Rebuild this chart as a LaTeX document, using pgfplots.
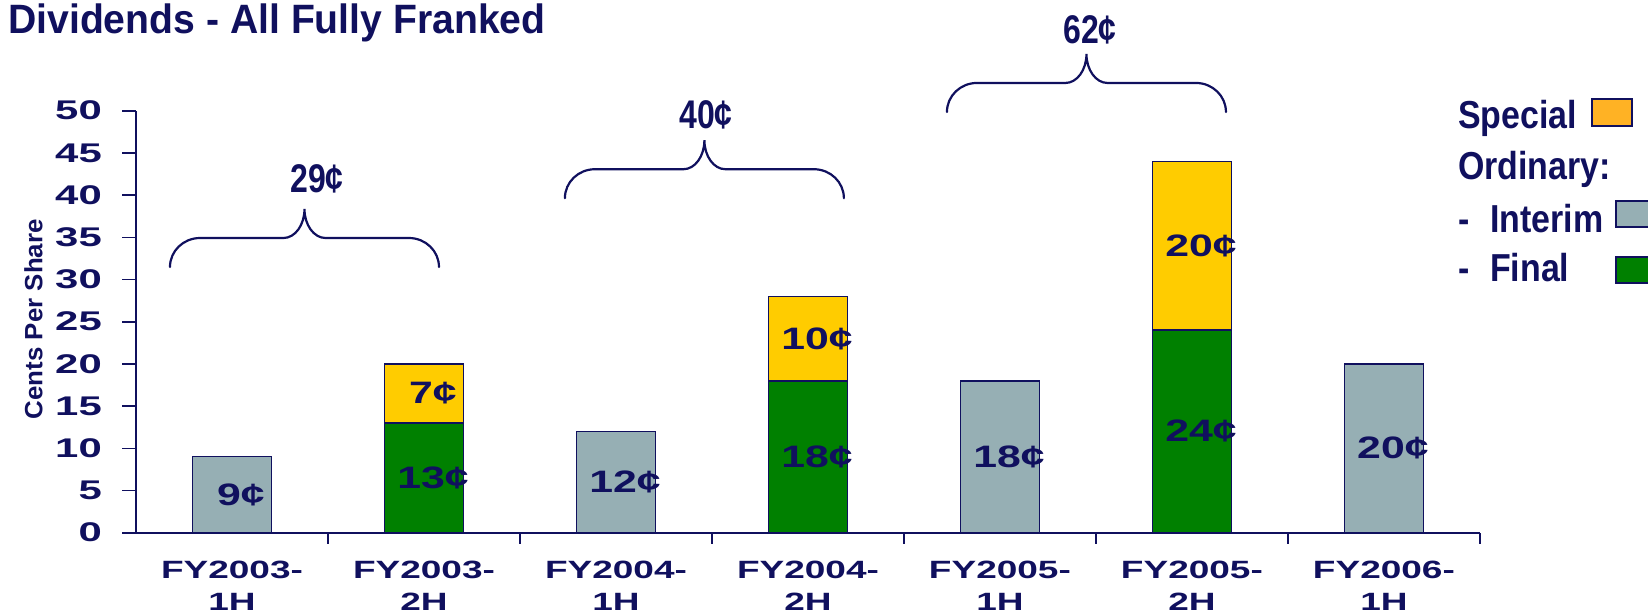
\documentclass[border=0pt]{standalone}
\usepackage{fontspec}
\setmainfont{Liberation Sans}
\usepackage{pgfplots}
\pgfplotsset{compat=1.18}

\definecolor{navy}{HTML}{10105E}
\definecolor{interim}{HTML}{96AFB4}
\definecolor{final}{HTML}{008000}
\definecolor{special}{HTML}{FFCC00}
\definecolor{speciallegend}{HTML}{FFB224}

% Bold faces, narrowed or widened as needed
\newfontfamily\titlefam[FakeStretch=0.955]{Liberation Sans}
\newfontfamily\legfam[FakeStretch=0.87]{Liberation Sans}
\newfontfamily\sumfam[FakeStretch=0.80]{Liberation Sans}
\newfontfamily\tickfam[FakeStretch=1.48]{Liberation Sans}
\newfontfamily\ytickfam[FakeStretch=1.55]{Liberation Sans}
\newfontfamily\valfam[FakeStretch=1.38]{Liberation Sans}
\newfontfamily\labfam[FakeStretch=1.035]{Liberation Sans}

\tikzset{
  segval/.style={text=navy, inner sep=0pt, xshift=9pt,
    font=\valfam\bfseries\fontsize{31}{31}\selectfont},
  yearsum/.style={text=navy, inner sep=0pt, anchor=base,
    font=\sumfam\bfseries\fontsize{40}{40}\selectfont},
  keytext/.style={text=navy, inner sep=0pt, anchor=base west,
    font=\legfam\bfseries\fontsize{39}{39}\selectfont},
  bracepath/.style={navy, line width=2.2pt, line cap=round},
}

\begin{document}
\begin{tikzpicture}[x=1pt,y=1pt]
\useasboundingbox (0,0) rectangle (1648,611);

\node[anchor=base west, inner sep=0pt, text=navy,
      font=\titlefam\bfseries\fontsize{41}{41}\selectfont]
  at (8,577) {Dividends - All Fully Franked};

\begin{axis}[
  at={(136pt,78.3pt)}, anchor=south west,
  scale only axis, width=1344pt, height=422pt,
  xmin=-0.5, xmax=6.5, ymin=0, ymax=50,
  clip=false,
  axis x line*=bottom, axis y line*=left,
  axis line style={navy, line width=1.6pt, -},
  ybar stacked, bar width=79pt,
  ytick={0,5,...,50},
  xtick={0,...,6},
  xticklabels={{FY2003-\\1H},{FY2003-\\2H},{FY2004-\\1H},{FY2004-\\2H},
               {FY2005-\\1H},{FY2005-\\2H},{FY2006-\\1H}},
  minor xtick={0.5,1.5,...,6.5},
  tick align=outside,
  major tick length=14pt, minor tick length=11pt,
  tick style={navy, line width=1.6pt},
  major x tick style={draw=none},
  /pgf/number format/assume math mode=true,
  yticklabel style={font=\ytickfam\bfseries\fontsize{27}{27}\selectfont,
                    text=navy, anchor=east, inner sep=0pt, xshift=-20pt},
  xticklabel style={font=\tickfam\bfseries\fontsize{25}{32}\selectfont,
                    text=navy, align=center, anchor=north, inner sep=0pt,
                    yshift=-14pt},
  ylabel={Cents Per Share},
  ylabel style={font=\labfam\bfseries\fontsize{25}{25}\selectfont,
                text=navy, at={(axis description cs:-0.0697,0.506)},
                anchor=base, inner sep=0pt},
]
% Interim, final and special dividends per half year (cents)
\addplot[fill=interim, draw=navy, line width=1.5pt]
  coordinates {(0,9) (1,0) (2,12) (3,0) (4,18) (5,0) (6,20)};
\addplot[fill=final, draw=navy, line width=1.5pt]
  coordinates {(0,0) (1,13) (2,0) (3,18) (4,0) (5,24) (6,0)};
\addplot[fill=special, draw=navy, line width=1.5pt]
  coordinates {(0,0) (1,7) (2,0) (3,10) (4,0) (5,20) (6,0)};

% Mid-points of the bar segments, labelled after the axis is drawn
\coordinate (i1) at (axis cs:0,4.5);
\coordinate (f2) at (axis cs:1,6.5);
\coordinate (s2) at (axis cs:1,16.5);
\coordinate (i3) at (axis cs:2,6);
\coordinate (f4) at (axis cs:3,9);
\coordinate (s4) at (axis cs:3,23);
\coordinate (i5) at (axis cs:4,9);
\coordinate (f6) at (axis cs:5,12);
\coordinate (s6) at (axis cs:5,34);
\coordinate (i7) at (axis cs:6,10);

% Full-year totals with braces
\draw[bracepath] (axis cs:-0.323,31.48)
  .. controls +(0pt,16pt) and +(-16.6pt,0pt) .. ++(30pt,29pt)
  -- ++(83.5pt,0pt)
  .. controls +(11.6pt,0pt) and +(0pt,-16pt) .. ++(21pt,29pt)
  .. controls +(0pt,-16pt) and +(-11.6pt,0pt) .. ++(21pt,-29pt)
  -- ++(83.5pt,0pt)
  .. controls +(16.6pt,0pt) and +(0pt,16pt) .. ++(30pt,-29pt);
\draw[bracepath] (axis cs:1.734,39.63)
  .. controls +(0pt,16pt) and +(-16.6pt,0pt) .. ++(30pt,29pt)
  -- ++(88.5pt,0pt)
  .. controls +(11.6pt,0pt) and +(0pt,-16pt) .. ++(21pt,29pt)
  .. controls +(0pt,-16pt) and +(-11.6pt,0pt) .. ++(21pt,-29pt)
  -- ++(88.5pt,0pt)
  .. controls +(16.6pt,0pt) and +(0pt,16pt) .. ++(30pt,-29pt);
\draw[bracepath] (axis cs:3.724,49.85)
  .. controls +(0pt,16pt) and +(-16.6pt,0pt) .. ++(30pt,29pt)
  -- ++(88.5pt,0pt)
  .. controls +(11.6pt,0pt) and +(0pt,-16pt) .. ++(21pt,29pt)
  .. controls +(0pt,-16pt) and +(-11.6pt,0pt) .. ++(21pt,-29pt)
  -- ++(88.5pt,0pt)
  .. controls +(16.6pt,0pt) and +(0pt,16pt) .. ++(30pt,-29pt);
\node[yearsum] at (axis cs:0.443,40.3) {29¢};
\node[yearsum] at (axis cs:2.469,47.95) {40¢};
\node[yearsum] at (axis cs:4.469,58.0) {62¢};
\end{axis}

% Segment values
\node[segval] at (i1) {9¢};
\node[segval] at (f2) {13¢};
\node[segval] at (s2) {7¢};
\node[segval] at (i3) {12¢};
\node[segval] at (f4) {18¢};
\node[segval] at (s4) {10¢};
\node[segval] at (i5) {18¢};
\node[segval] at (f6) {24¢};
\node[segval] at (s6) {20¢};
\node[segval] at (i7) {20¢};

% Key
\node[keytext] at (1458,482) {Special};
\node[keytext] at (1458,431) {Ordinary:};
\node[keytext] at (1458,378) {-};
\node[keytext] at (1490,378) {Interim};
\node[keytext] at (1458,329) {-};
\node[keytext] at (1490,329) {Final};
\draw[navy, line width=1.5pt, fill=speciallegend] (1592,485) rectangle (1632,512);
\draw[navy, line width=1.5pt, fill=interim] (1616,384) rectangle (1662,410);
\draw[navy, line width=1.5pt, fill=final] (1616,328) rectangle (1662,354);
\end{tikzpicture}
\end{document}
